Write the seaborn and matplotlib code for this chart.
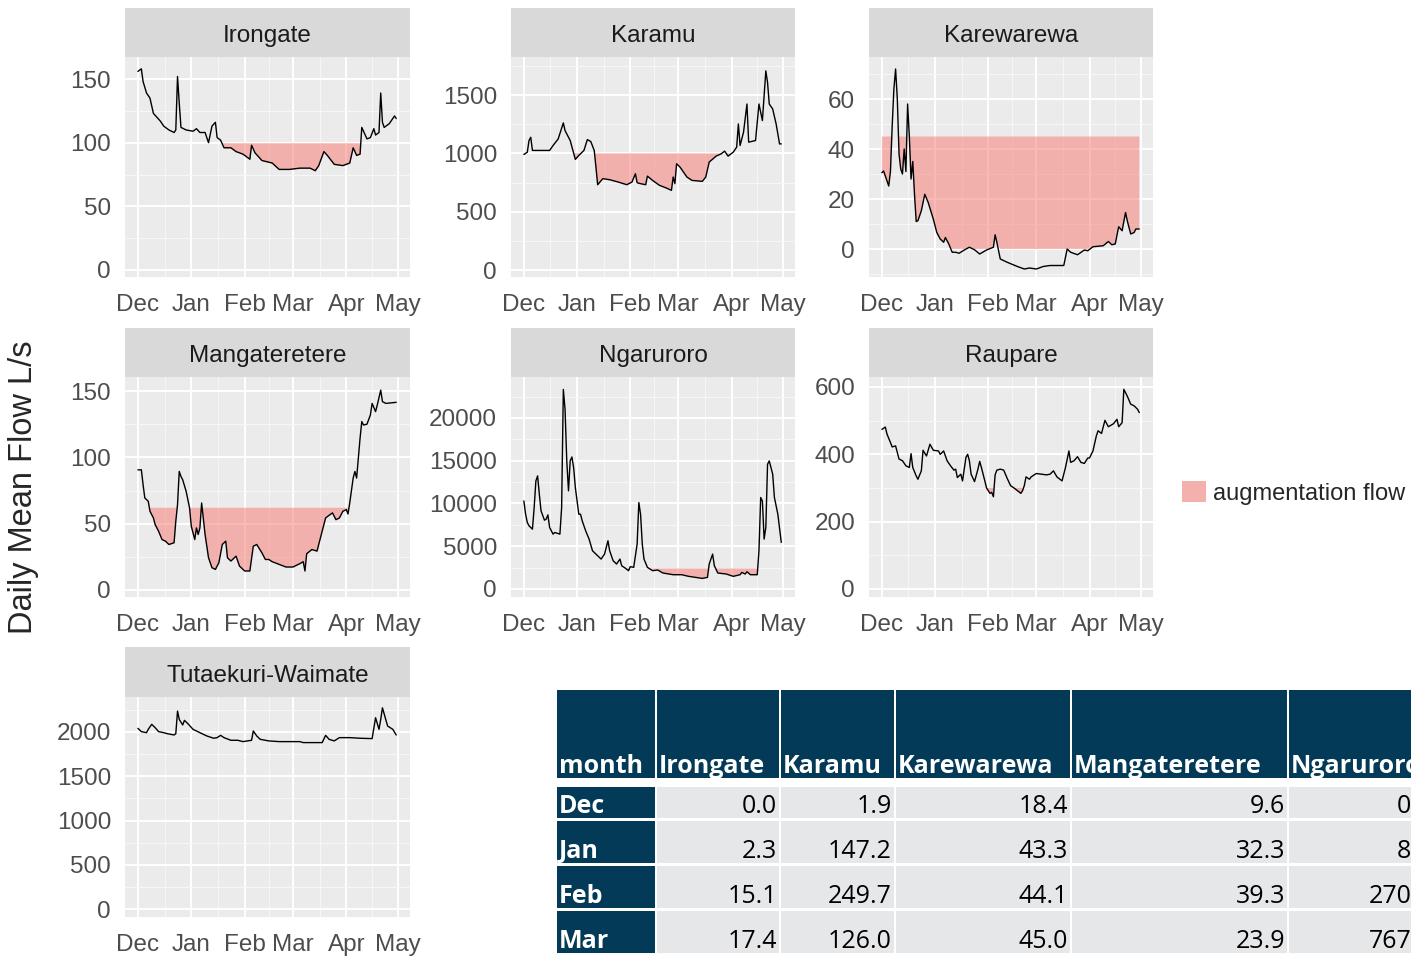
import numpy as np
import pandas as pd
import matplotlib
matplotlib.use("Agg")
import matplotlib.pyplot as plt
import matplotlib.dates as mdates
from matplotlib.patches import Patch, Rectangle
import seaborn as sns

start = pd.Timestamp("2014-12-01")

# daily mean flow (day offset from 1 Dec, L/s)
irongate_day = [0, 2, 3, 5, 7, 9, 11, 13, 15, 18, 21, 22, 23, 24, 25, 28, 32, 34, 36, 39, 41, 43, 45, 46, 48, 50,
                54, 57, 61, 65, 66, 68, 72, 78, 82, 88, 94, 100, 103, 105, 108, 110, 114, 119, 123, 125, 127, 129,
                130, 133, 135, 137, 138, 140, 141, 142, 143, 146, 149, 150]
irongate_flow = [156, 158, 148, 139, 135, 123, 120, 117, 113, 110, 108, 110, 152, 131, 112, 110, 109, 111, 108, 108,
                 100, 113, 116, 104, 102, 96, 96, 93, 91, 87, 98, 92, 86, 84, 79, 79, 80, 80, 78, 82, 93, 90, 83, 82,
                 84, 96, 90, 91, 112, 103, 104, 111, 106, 108, 139, 116, 112, 115, 121, 119]

karamu_day = [0, 2, 3, 4, 5, 11, 15, 17, 20, 23, 24, 27, 30, 32, 35, 37, 39, 41, 42, 43, 46, 50, 55, 60, 63, 65, 66,
              68, 71, 72, 75, 79, 83, 86, 87, 88, 89, 91, 95, 98, 104, 106, 108, 112, 115, 117, 119, 122, 124, 125,
              126, 128, 130, 131, 135, 137, 138, 139, 141, 142, 143, 145, 147, 149, 150]
karamu_flow = [990, 1010, 1110, 1138, 1025, 1025, 1025, 1067, 1124, 1261, 1195, 1110, 948, 982, 1025, 1118, 1101,
               1025, 882, 731, 783, 774, 754, 731, 754, 825, 748, 740, 731, 805, 768, 726, 703, 683, 797, 740, 911,
               882, 797, 768, 760, 797, 925, 976, 996, 1019, 976, 1010, 1053, 1252, 1067, 1181, 1423, 1096, 1110,
               1423, 1352, 1281, 1707, 1608, 1423, 1380, 1252, 1081, 1081]

karewarewa_day = [0, 1, 3, 4, 5, 6, 7, 8, 9, 10, 11, 12, 13, 14, 15, 16, 17, 18, 19, 20, 21, 23, 25, 27, 30, 32, 34,
                  36, 37, 39, 41, 43, 45, 48, 51, 54, 57, 61, 65, 66, 67, 69, 73, 79, 83, 86, 90, 94, 98, 103, 106,
                  108, 110, 114, 118, 120, 123, 129, 132, 134, 136, 138, 140, 142, 143, 145, 147, 148, 150]
karewarewa_flow = [30.5, 31.2, 27.2, 25.2, 31, 49, 64, 72, 60, 38, 32, 30, 40, 31, 58, 45, 28, 35, 22, 11, 11.3,
                   15.3, 21.9, 18.6, 11.9, 6.6, 4, 2.7, 4.6, 2, -1.3, -1.3, -1.7, -0.4, 0.7, -0.3, -2, -0.4, 0.7, 5.7,
                   2.7, -4, -5.3, -7, -8, -7.6, -8, -7, -6.6, -6.6, -6.6, 0, -1.3, -2.3, -0.4, -0.7, 0.9, 1.3, 3,
                   1.7, 2, 8.9, 7.3, 14.6, 11.3, 6, 6.6, 8, 8]

mangateretere_day = [0, 2, 3, 4, 6, 7, 9, 10, 12, 14, 16, 18, 21, 22, 23, 24, 25, 26, 28, 30, 31, 33, 34, 35, 36, 37,
                     39, 41, 43, 45, 47, 49, 51, 52, 54, 57, 59, 62, 65, 67, 69, 72, 74, 76, 78, 82, 86, 90, 94, 96,
                     97, 98, 101, 104, 105, 107, 109, 111, 113, 115, 117, 119, 121, 122, 123, 125, 126, 127, 128,
                     129, 130, 131, 133, 135, 136, 138, 139, 141, 142, 144, 150]
mangateretere_flow = [90.6, 90.6, 79.4, 69.4, 66.9, 59.3, 54.3, 49.3, 44.3, 38, 36.8, 34.3, 35.6, 51.8, 64.3, 89.4,
                      85.6, 83.1, 74.4, 61.8, 48, 38, 46.8, 41.8, 46.8, 65.6, 41.8, 24.3, 16.8, 15.5, 20.5, 34.3,
                      36.8, 24.3, 21.8, 25.5, 18, 14.3, 14.3, 33, 34.3, 28, 23, 23, 21.3, 19.3, 17.3, 17.3, 19.8,
                      21.3, 14.3, 27.3, 30.5, 29.3, 34.3, 44.3, 54.3, 56.3, 58.1, 53, 54.3, 59.3, 60.6, 57.3, 65.6,
                      84.4, 89.4, 84.4, 99.4, 114.4, 127, 124.4, 125, 132, 140.7, 134.5, 139.5, 150.7, 142, 140.7,
                      141.5]

ngaruroro_day = [0, 1, 2, 3, 5, 6, 7, 8, 9, 10, 12, 13, 14, 15, 17, 18, 21, 22, 23, 24, 25, 26, 27, 28, 29, 30, 32,
                 33, 34, 36, 38, 40, 42, 45, 47, 49, 50, 52, 54, 56, 57, 59, 61, 62, 64, 66, 67, 68, 69, 70, 72, 75,
                 78, 81, 87, 92, 96, 100, 104, 107, 108, 110, 111, 113, 118, 122, 126, 127, 129, 130, 132, 136, 137,
                 138, 139, 140, 141, 142, 143, 145, 146, 148, 150]
ngaruroro_flow = [10300, 8750, 7780, 7390, 7000, 9530, 12640, 13230, 11090, 9140, 8050, 8170, 8670, 7200, 6420, 6610,
                  6420, 9500, 23340, 21000, 14980, 11480, 15000, 15440, 14200, 11860, 8750, 8750, 7970, 6810, 5840,
                  4470, 4080, 3500, 4080, 5640, 4470, 3310, 2920, 3500, 2720, 2450, 2140, 2610, 2530, 5250, 10110,
                  8750, 5250, 3500, 2530, 2140, 2220, 1870, 1670, 1670, 1480, 1360, 1240, 1360, 2920, 4080, 2720,
                  1870, 1750, 1480, 1670, 1940, 1750, 2020, 1670, 1670, 4470, 10700, 10300, 5840, 7200, 14590,
                  14980, 13420, 10700, 8750, 5450]

raupare_day = [0, 2, 3, 5, 6, 8, 10, 12, 14, 16, 17, 18, 20, 21, 23, 24, 26, 28, 30, 33, 34, 36, 38, 40, 42, 43, 44,
               46, 47, 49, 50, 51, 52, 54, 56, 57, 58, 60, 61, 63, 64, 65, 66, 67, 69, 71, 73, 75, 77, 79, 81, 82, 83,
               84, 86, 87, 90, 93, 96, 98, 100, 102, 105, 107, 109, 110, 112, 114, 116, 118, 120, 121, 123, 125, 126,
               128, 130, 132, 135, 137, 138, 140, 141, 143, 145, 147, 149, 150]
raupare_flow = [474, 481, 460, 435, 422, 425, 386, 381, 366, 361, 402, 361, 336, 326, 351, 412, 395, 430, 412, 410,
                400, 410, 381, 366, 353, 356, 331, 341, 321, 391, 400, 381, 341, 319, 356, 379, 361, 321, 300, 284,
                287, 274, 339, 353, 356, 353, 329, 307, 300, 292, 284, 292, 307, 333, 326, 333, 343, 341, 339, 341,
                351, 333, 321, 361, 410, 376, 381, 393, 376, 373, 389, 389, 410, 455, 470, 462, 501, 482, 491, 504,
                482, 494, 593, 573, 549, 544, 534, 524]

tutaekuri_day = [0, 2, 5, 6, 8, 10, 12, 15, 17, 21, 22, 23, 24, 26, 27, 29, 32, 36, 40, 44, 46, 48, 50, 54, 58, 61,
                 66, 67, 69, 71, 76, 82, 94, 96, 107, 109, 111, 114, 117, 123, 129, 136, 138, 140, 141, 142, 145, 148,
                 150]
tutaekuri_flow = [2041, 2004, 1992, 2030, 2086, 2049, 2004, 1992, 1981, 1966, 1981, 2236, 2142, 2079, 2131, 2094,
                  2030, 1992, 1955, 1929, 1936, 1962, 1936, 1906, 1906, 1891, 1906, 2011, 1955, 1917, 1899, 1891,
                  1891, 1880, 1880, 1962, 1917, 1899, 1936, 1936, 1929, 1925, 2161, 2030, 2142, 2273, 2067, 2030,
                  1966]

stations = ["Irongate", "Karamu", "Karewarewa", "Mangateretere", "Ngaruroro", "Raupare", "Tutaekuri-Waimate"]
station_days = [irongate_day, karamu_day, karewarewa_day, mangateretere_day, ngaruroro_day, raupare_day, tutaekuri_day]
station_flows = [irongate_flow, karamu_flow, karewarewa_flow, mangateretere_flow, ngaruroro_flow, raupare_flow,
                 tutaekuri_flow]
thresholds = [100, 1000, 45, 62, 2400, 300, None]
y_ticks = [[0, 50, 100, 150], [0, 500, 1000, 1500], [0, 20, 40, 60], [0, 50, 100, 150],
           [0, 5000, 10000, 15000, 20000], [0, 200, 400, 600], [0, 500, 1000, 1500, 2000]]
y_lims = [(-5.5, 167.3), (-60, 1826), (-11.2, 76.8), (-5.3, 160.6), (-936, 24795), (-23.8, 629.7), (-90, 2395)]

month_ticks = ["2014-12-01", "2015-01-01", "2015-02-01", "2015-03-01", "2015-04-01", "2015-05-01"]
month_labels = ["Dec", "Jan", "Feb", "Mar", "Apr", "May"]

# augmentation table (Ngaruroro column is cut off at the right edge)
table_cols = ["month", "Irongate", "Karamu", "Karewarewa", "Mangateretere", "Ngaruroro"]
table_months = ["Dec", "Jan", "Feb", "Mar"]
aug_irongate = [0.0, 2.3, 15.1, 17.4]
aug_karamu = [1.9, 147.2, 249.7, 126.0]
aug_karewarewa = [18.4, 43.3, 44.1, 45.0]
aug_mangateretere = [9.6, 32.3, 39.3, 23.9]
aug_ngaruroro = [0.0, 8.0, 270.0, 767.0]

rows = []
for name, d, f in zip(stations, station_days, station_flows):
    rows.append(pd.DataFrame({"station": name, "date": start + pd.to_timedelta(d, unit="D"), "flow": f}))
df = pd.concat(rows, ignore_index=True)

sns.set_theme(style="white")
plt.rcParams["font.family"] = ["Liberation Sans", "DejaVu Sans"]

W, H = 1411, 956
fig = plt.figure(figsize=(W / 100, H / 100), dpi=100)


def rect(x0, y0, x1, y1):
    return [x0 / W, 1 - y1 / H, (x1 - x0) / W, (y1 - y0) / H]


cols_x = [(125, 410), (511, 795), (869, 1153)]
rows_y = [(8, 57, 277), (328, 377, 597), (647, 697, 917)]
fill_col = "#F8766D"

major_x = [mdates.date2num(pd.Timestamp(t)) for t in month_ticks]
minor_x = [(a + b) / 2 for a, b in zip(major_x[:-1], major_x[1:])]
xlim = (major_x[0] - 7.5, major_x[-1] + 7.0)

for i, name in enumerate(stations):
    r, c = divmod(i, 3)
    x0, x1 = cols_x[c]
    sy0, py0, py1 = rows_y[r]
    ax = fig.add_axes(rect(x0, py0, x1, py1))
    sax = fig.add_axes(rect(x0, sy0, x1, py0))
    sax.set_facecolor("#D9D9D9")
    sax.set_xticks([])
    sax.set_yticks([])
    for s in sax.spines.values():
        s.set_visible(False)
    sax.text(0.5, 0.43, name, ha="center", va="center", fontsize=17.5, color="#1A1A1A", transform=sax.transAxes)

    sub = df[df["station"] == name]
    thr = thresholds[i]
    if thr is not None:
        fl = sub["flow"].to_numpy()
        ax.fill_between(sub["date"], np.clip(fl, 0, None), thr, where=fl < thr, interpolate=True,
                        color=fill_col, alpha=0.5, lw=0, zorder=2)
    sns.lineplot(data=sub, x="date", y="flow", ax=ax, color="black", lw=1.0, estimator=None, zorder=3)

    ax.set_facecolor("#EBEBEB")
    ax.set_xlim(xlim)
    ax.set_ylim(y_lims[i])
    ax.set_xticks(major_x)
    ax.set_xticklabels(month_labels)
    ax.set_xticks(minor_x, minor=True)
    yt = y_ticks[i]
    step = yt[1] - yt[0]
    ax.set_yticks(yt)
    ax.set_yticklabels([str(v) for v in yt])
    ymin = [v + step / 2 for v in [yt[0] - step] + yt]
    ax.set_yticks([v for v in ymin if y_lims[i][0] < v < y_lims[i][1]], minor=True)
    ax.grid(which="major", color="white", lw=1.4)
    ax.grid(which="minor", color="#F7F7F7", lw=0.7)
    ax.set_axisbelow(True)
    ax.tick_params(which="major", length=5, width=1, color="#555555", labelsize=17.5, labelcolor="#4D4D4D")
    ax.tick_params(axis="x", which="major", pad=7)
    ax.tick_params(axis="y", which="major", pad=5)
    ax.tick_params(which="minor", length=0)
    ax.set_xlabel("")
    ax.set_ylabel("")
    for s in ax.spines.values():
        s.set_visible(False)

fig.text(24 / W, 1 - 487 / H, "Daily Mean Flow L/s", rotation=90, ha="center", va="center", fontsize=23.5)

fig.legend(handles=[Patch(facecolor="#F3B0AC", edgecolor="none")], labels=["augmentation flow"],
           loc="center left", bbox_to_anchor=(1161 / W, 1 - 493 / H), frameon=False, fontsize=17,
           handlelength=1.0, handleheight=1.0, handletextpad=0.3)

# table overlay
tab = fig.add_axes([0, 0, 1, 1], zorder=5)
tab.set_xlim(0, W)
tab.set_ylim(H, 0)
tab.axis("off")
tab.patch.set_alpha(0)

navy = "#033A57"
cell_grey = "#E6E7E9"
col_edges = [(557, 655), (657, 779), (781, 894), (896, 1070), (1072, 1287), (1289, 1434)]
row_edges = [(690, 778), (787, 818), (821, 863), (866, 908), (911, 953)]
tfont = ["Open Sans", "DejaVu Sans"]
tsize = 18

for (cx0, cx1), label in zip(col_edges, table_cols):
    ry0, ry1 = row_edges[0]
    tab.add_patch(Rectangle((cx0, ry0), cx1 - cx0, ry1 - ry0, color=navy, lw=0))
    tab.text(cx0 + 2, ry1 - 5, label, ha="left", va="baseline", color="white", fontsize=tsize,
             fontweight="bold", family=tfont, clip_on=True)

table_vals = [aug_irongate, aug_karamu, aug_karewarewa, aug_mangateretere, aug_ngaruroro]
for j, m in enumerate(table_months):
    ry0, ry1 = row_edges[j + 1]
    cx0, cx1 = col_edges[0]
    tab.add_patch(Rectangle((cx0, ry0), cx1 - cx0, ry1 - ry0, color=navy, lw=0))
    tab.text(cx0 + 2, ry1 - 5, m, ha="left", va="baseline", color="white", fontsize=tsize,
             fontweight="bold", family=tfont)
    for (cx0, cx1), vals in zip(col_edges[1:], table_vals):
        tab.add_patch(Rectangle((cx0, ry0), cx1 - cx0, ry1 - ry0, color=cell_grey, lw=0))
        tab.text(cx1 - 2, ry1 - 5, f"{vals[j]:.1f}", ha="right", va="baseline", color="black",
                 fontsize=tsize, family=tfont)

fig.savefig("out.png", dpi=100)
